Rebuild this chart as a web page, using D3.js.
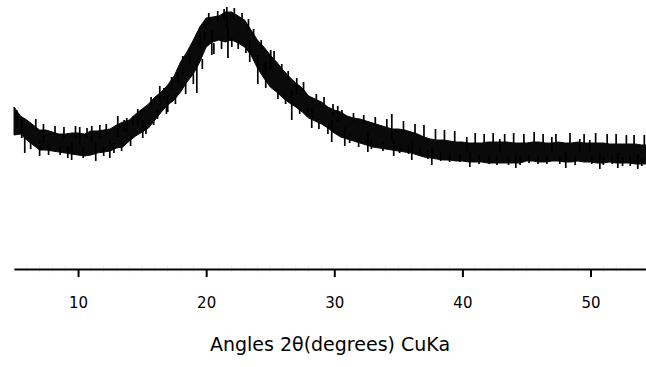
<!DOCTYPE html>
<html>
<head>
<meta charset="utf-8">
<title>XRD pattern</title>
<style>
  body { margin: 0; background: #fff; }
  svg text { font-family: "DejaVu Sans", sans-serif; }
</style>
</head>
<body>
<script src="https://d3js.org/d3.v7.min.js"></script>
<script>

// angles 2theta every 0.5 degree, 5.0 .. 54.5
var angles = d3.range(100).map(function(i) { return 5 + i * 0.5; });

// top and bottom of the noisy trace (counts)
var upper = [324,306,298,288,278,278,274,270,270,272,
             272,270,276,276,278,280,288,294,298,310,
             320,330,344,354,368,386,414,434,458,484,
             502,504,506,514,514,506,498,478,458,444,
             428,414,398,384,372,362,346,340,334,324,
             318,314,306,302,300,296,292,288,284,280,
             280,278,274,270,264,260,258,258,256,254,
             254,252,252,252,254,254,254,254,252,252,
             252,254,254,252,252,254,252,252,254,252,
             252,252,252,250,250,250,250,250,248,248];

var lower = [268,270,258,248,238,238,236,234,232,230,
             228,226,228,232,234,236,242,244,256,266,
             274,282,298,314,328,338,354,374,390,414,
             444,454,458,454,458,452,444,428,402,382,
             364,354,342,332,324,314,302,296,290,282,
             272,264,260,256,252,248,244,242,240,238,
             236,234,232,228,224,222,220,218,218,216,
             216,214,214,214,212,212,212,212,212,212,
             216,216,214,214,216,216,214,214,216,214,
             214,212,212,214,212,212,212,210,210,210];

// long noise spikes sticking out of the band: [angle, from, to]
var spikes = [
  [5.84,232,264],[7.0,226,258],[9.5,218,252],[10.13,248,284],[11.07,252,286],
  [11.38,216,254],[12.48,222,258],[13.1,264,306],[13.8,274,302],[14.66,288,320],
  [15.05,262,298],[16.38,328,366],[17.0,314,348],[18.17,388,426],[19.27,352,418],
  [19.89,458,498],[20.44,428,478],[21.61,484,524],[21.7,422,484],[23.4,414,458],
  [24.03,370,428],[24.65,362,414],[25.04,398,438],[26.68,298,358],[27.07,348,382],
  [28.24,282,322],[29.8,254,298],[30.27,294,326],[30.82,246,284],[32.62,234,272],
  [34.49,258,310],[34.64,226,258],[36.05,218,252],[37.61,208,242],[40.34,234,264],
  [40.58,204,234],[42.92,234,260],[44.17,202,232],[46.98,234,264],[48.07,202,234],
  [49.16,234,260],[49.94,234,258],[50.73,200,232],[52.13,202,232],[53.69,200,230]
];

// shorter ones along both edges of the band
var shortSpikes = [
  [5.2,280,318],[5.6,262,300],[6.3,240,262],[6.7,280,300],[7.3,252,290],
  [7.7,228,250],[8.2,266,286],[8.6,228,246],[8.9,262,284],[9.2,222,246],
  [9.8,262,286],[10.4,222,244],[10.7,262,282],[11.7,262,288],[12.0,226,246],
  [12.2,268,290],[12.8,232,252],[13.4,236,258],[13.6,276,298],[14.1,246,268],
  [14.3,286,306],[14.9,296,318],[15.3,270,290],[15.7,320,344],[15.9,288,306],
  [16.2,300,320],[16.7,340,362],[16.9,310,330],[17.3,360,384],[17.6,330,346],
  [17.8,372,400],[18.4,350,372],[18.7,410,440],[19.0,370,390],[19.5,440,470],
  [19.7,400,420],[20.2,490,512],[20.6,430,452],[20.9,496,516],[21.2,440,460],
  [21.4,500,520],[22.0,444,462],[22.2,504,522],[22.5,440,458],[22.8,496,512],
  [23.1,432,452],[23.3,480,500],[23.7,460,480],[24.3,440,458],[24.5,390,410],
  [25.3,420,436],[25.6,340,360],[25.9,392,410],[26.2,330,348],[26.4,380,396],
  [27.3,310,330],[27.6,356,374],[27.9,304,322],[28.6,330,350],[28.8,280,300],
  [29.2,326,344],[29.5,270,290],[29.9,308,330],[30.6,300,318],[31.2,252,272],
  [31.5,296,312],[31.9,244,262],[32.3,290,308],[32.9,240,258],[33.2,286,304],
  [33.8,236,254],[34.1,282,300],[35.1,232,250],[35.4,276,296],[35.8,230,248],
  [36.3,270,290],[36.7,226,244],[37.0,264,288],[37.3,220,238],[37.9,258,280],
  [38.3,216,234],[38.6,256,278],[39.0,214,232],[39.4,254,276],[39.8,214,230],
  [41.0,252,272],[41.3,210,228],[41.7,252,270],[42.1,210,226],[42.4,252,272],
  [42.7,208,226],[43.3,252,270],[43.6,208,224],[44.0,252,272],[44.5,208,226],
  [44.8,252,270],[45.2,212,228],[45.6,252,274],[45.9,210,226],[46.3,252,270],
  [46.6,210,228],[47.3,252,270],[47.6,210,226],[48.4,252,272],[48.8,208,226],
  [49.5,252,270],[50.1,210,226],[50.4,252,272],[51.0,208,224],[51.3,250,270],
  [51.7,210,226],[52.0,250,270],[52.5,206,224],[52.8,250,268],[53.1,206,224],
  [53.4,250,268],[54.0,206,222],[54.2,248,268]
];

var majorTicks = [10, 20, 30, 40, 50];
var minorTicks = d3.range(5, 55, 1);

var width = 646, height = 367;

var x = d3.scaleLinear().domain([5, 54.3]).range([14, 645.6]);
var y = d3.scaleLinear().domain([0, 538]).range([269, 0]);

var svg = d3.select("body")
    .append("svg")
    .attr("width", width)
    .attr("height", height);

var band = angles.map(function(a, i) { return { a: a, hi: upper[i], lo: lower[i] }; });

var area = d3.area()
    .x(function(d) { return x(d.a); })
    .y0(function(d) { return y(d.lo); })
    .y1(function(d) { return y(d.hi); });

svg.append("path")
    .datum(band)
    .attr("d", area)
    .attr("fill", "#0a0a0a")
    .attr("stroke", "#0a0a0a")
    .attr("stroke-width", 1);

svg.selectAll(".spike")
    .data(spikes.concat(shortSpikes))
    .enter().append("line")
    .attr("class", "spike")
    .attr("x1", function(d) { return x(d[0]); })
    .attr("x2", function(d) { return x(d[0]); })
    .attr("y1", function(d) { return y(d[1]); })
    .attr("y2", function(d) { return y(d[2]); })
    .attr("stroke", "#000")
    .attr("stroke-width", 1.7);

// faint minor ticks
svg.selectAll(".minor")
    .data(minorTicks.filter(function(t) { return majorTicks.indexOf(t) < 0; }))
    .enter().append("line")
    .attr("class", "minor")
    .attr("x1", function(d) { return x(d); })
    .attr("x2", function(d) { return x(d); })
    .attr("y1", 265)
    .attr("y2", 273)
    .attr("stroke", "#f0f0f0")
    .attr("stroke-width", 1);

var axis = svg.append("g")
    .attr("transform", "translate(0," + y(0) + ")")
    .call(d3.axisBottom(x)
        .tickValues(majorTicks)
        .tickSize(8)
        .tickSizeOuter(0)
        .tickPadding(20));

axis.select(".domain").attr("stroke-width", 2);
axis.selectAll(".tick line").attr("stroke-width", 2);
axis.selectAll(".tick text")
    .attr("font-size", "15px")
    .attr("font-family", "DejaVu Sans, sans-serif")
    .attr("fill", "#000");

svg.append("text")
    .attr("x", 330)
    .attr("y", 351)
    .attr("text-anchor", "middle")
    .attr("font-size", "19px")
    .attr("fill", "#000")
    .text("Angles 2\u03b8(degrees) CuKa");

</script>
</body>
</html>
